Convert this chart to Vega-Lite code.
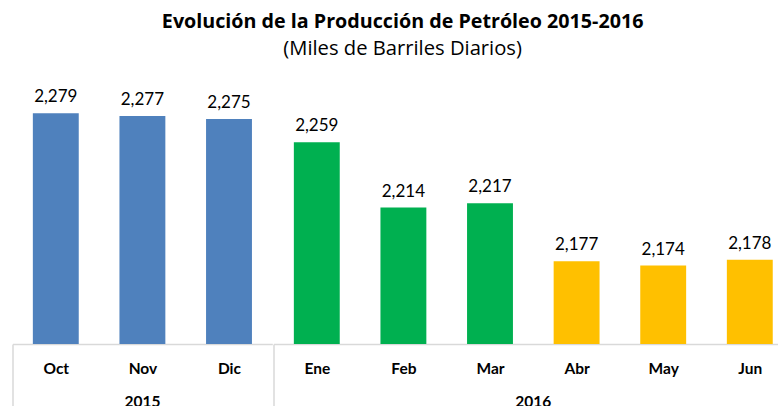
{
  "$schema": "https://vega.github.io/schema/vega-lite/v6.json",
  "background": "white",
  "padding": {"left": 11.5, "top": 12, "right": 0, "bottom": 0},
  "config": {
    "font": "Lato",
    "view": {"stroke": null},
    "facet": {"spacing": 0}
  },
  "title": {
    "text": "Evolución de la Producción de Petróleo 2015-2016",
    "subtitle": "(Miles de Barriles Diarios)",
    "anchor": "middle",
    "font": "Open Sans",
    "fontSize": 19.7,
    "fontWeight": "bold",
    "color": "#000000",
    "subtitleFont": "Open Sans",
    "subtitleFontSize": 20.2,
    "subtitleColor": "#000000",
    "subtitlePadding": 7,
    "offset": 15
  },
  "data": {
    "values": [
      {"mes": "Oct", "anio": "2015", "grupo": "T4 2015", "valor": 2279},
      {"mes": "Nov", "anio": "2015", "grupo": "T4 2015", "valor": 2277},
      {"mes": "Dic", "anio": "2015", "grupo": "T4 2015", "valor": 2275},
      {"mes": "Ene", "anio": "2016", "grupo": "T1 2016", "valor": 2259},
      {"mes": "Feb", "anio": "2016", "grupo": "T1 2016", "valor": 2214},
      {"mes": "Mar", "anio": "2016", "grupo": "T1 2016", "valor": 2217},
      {"mes": "Abr", "anio": "2016", "grupo": "T2 2016", "valor": 2177},
      {"mes": "May", "anio": "2016", "grupo": "T2 2016", "valor": 2174},
      {"mes": "Jun", "anio": "2016", "grupo": "T2 2016", "valor": 2178}
    ]
  },
  "facet": {
    "column": {
      "field": "anio",
      "type": "nominal",
      "header": {
        "title": null,
        "labelOrient": "bottom",
        "labelFont": "Lato",
        "labelFontSize": 15.5,
        "labelFontWeight": "bold",
        "labelColor": "#000000",
        "labelPadding": -20
      }
    }
  },
  "resolve": {"scale": {"x": "independent"}},
  "spec": {
    "width": {"step": 86.6},
    "height": 270,
    "encoding": {
      "x": {
        "field": "mes",
        "type": "nominal",
        "sort": null,
        "scale": {"paddingInner": 0, "paddingOuter": 0},
        "axis": {
          "title": null,
          "labelAngle": 0,
          "labelFont": "Lato",
          "labelFontSize": 15.5,
          "labelFontWeight": "bold",
          "labelColor": "#000000",
          "labelPadding": -53,
          "domainColor": "#d9d9d9",
          "domainWidth": 1.5,
          "ticks": true,
          "tickBand": "extent",
          "tickSize": 70,
          "tickColor": "#d9d9d9",
          "tickWidth": 1.5,
          "tickOpacity": {"condition": {"test": "datum.index < 0", "value": 1}, "value": 0}
        }
      },
      "y": {
        "field": "valor",
        "type": "quantitative",
        "scale": {"domain": [2120, 2306], "zero": false},
        "axis": null
      }
    },
    "layer": [
      {
        "mark": {"type": "bar", "width": {"band": 0.53}, "clip": true},
        "encoding": {
          "color": {
            "field": "grupo",
            "type": "nominal",
            "scale": {"domain": ["T4 2015", "T1 2016", "T2 2016"], "range": ["#4F81BD", "#00B050", "#FFC000"]},
            "legend": null
          }
        }
      },
      {
        "mark": {"type": "text", "dy": -16, "font": "Lato", "fontSize": 17, "color": "#000000"},
        "encoding": {
          "text": {"field": "valor", "type": "quantitative", "format": ",.0f"}
        }
      }
    ]
  }
}
